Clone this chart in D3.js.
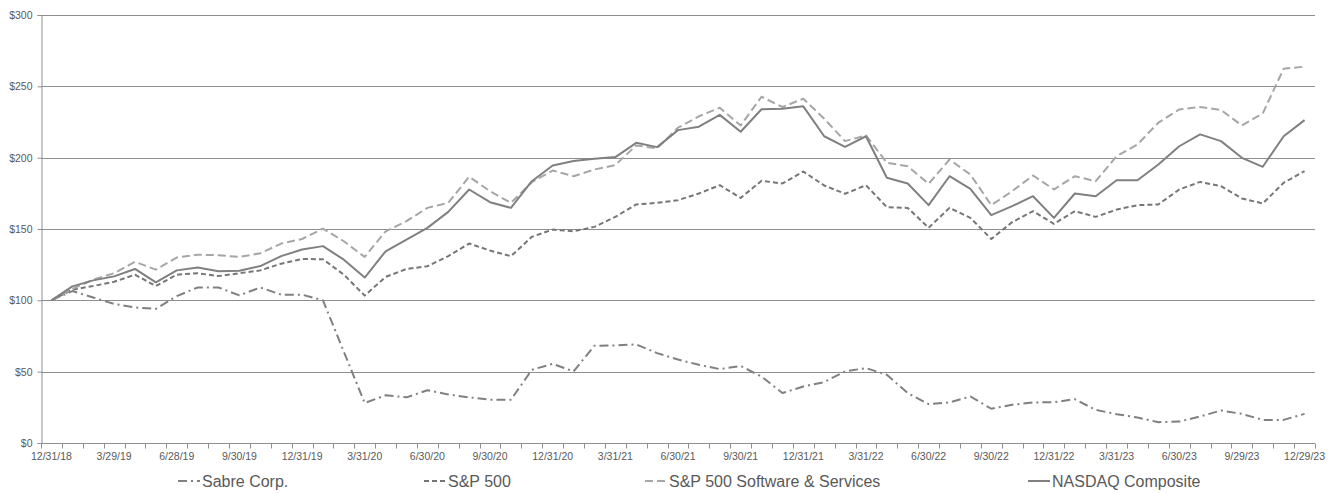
<!DOCTYPE html>
<html>
<head>
<meta charset="utf-8">
<script src="https://cdn.jsdelivr.net/npm/d3@7"></script>
<style>
  body { margin: 0; background: #fff; }
  #chart { width: 1336px; height: 493px; }
  text { font-family: "Liberation Sans", Arial, sans-serif; fill: #595959; }
</style>
</head>
<body>
<div id="chart"></div>
<script>
// month-end dates, one per point (every 3rd one is labelled)
const dates = [
  "12/31/18", "1/31/19", "2/28/19", "3/29/19", "4/30/19", "5/31/19", "6/28/19", "7/31/19", "8/30/19", "9/30/19", "10/31/19", "11/29/19",
  "12/31/19", "1/31/20", "2/28/20", "3/31/20", "4/30/20", "5/29/20", "6/30/20", "7/31/20", "8/31/20", "9/30/20", "10/30/20", "11/30/20",
  "12/31/20", "1/29/21", "2/26/21", "3/31/21", "4/30/21", "5/28/21", "6/30/21", "7/30/21", "8/31/21", "9/30/21", "10/29/21", "11/30/21",
  "12/31/21", "1/31/22", "2/28/22", "3/31/22", "4/29/22", "5/31/22", "6/30/22", "7/29/22", "8/31/22", "9/30/22", "10/31/22", "11/30/22",
  "12/31/22", "1/31/23", "2/28/23", "3/31/23", "4/28/23", "5/31/23", "6/30/23", "7/31/23", "8/31/23", "9/29/23", "10/31/23", "11/30/23",
  "12/29/23"
];

const sabre = [100, 106.5, 102, 97.5, 95, 94, 103, 109, 109, 103.5,
  109, 104, 104, 100, 64, 28, 33.5, 32, 37, 34,
  32, 30.3, 30.3, 51.3, 55.5, 50.2, 68.2, 68.4, 69.1, 63,
  58.5, 54.8, 51.8, 54, 46.6, 35, 39.6, 42.7, 50.2, 52.5,
  47.8, 35, 27.2, 28.4, 32.6, 24, 26.8, 28.4, 28.6, 30.7,
  23.2, 20.2, 17.9, 14.6, 15, 18.6, 22.8, 20.4, 16.2, 16.2, 20.4];

const sp500 = [100, 107.5, 110, 113, 118, 110, 118, 119, 117, 119,
  121, 125.7, 129, 128.8, 118, 103.3, 116.4, 122, 123.9, 131,
  139.8, 134.9, 130.9, 144.5, 149.6, 148.4, 151.5, 158.5, 167.2, 168.3,
  170.2, 174.9, 180.7, 171.8, 183.8, 181.9, 190.3, 180.5, 174.7, 180.7,
  165.3, 164.8, 150.8, 164.8, 157.8, 143, 154.8, 162.5, 153.6, 162.5,
  158.5, 163.6, 166.7, 167.2, 177.7, 183, 180, 171.4, 167.9, 182.4, 190.6];

const software = [100, 108, 114.5, 119, 127, 121.5, 130, 132, 131.6, 130.4,
  133, 139.8, 143, 150.3, 141.4, 130.4, 148.4, 155.5, 164.8, 168.3,
  186.6, 176.5, 168.3, 182.8, 191, 187, 191.7, 194.8, 208.6, 206.5,
  221, 229, 235, 222.6, 242.7, 235.5, 241.3, 227.3, 211.6, 215.6,
  196.4, 194, 181.7, 198.7, 188.2, 166.7, 176.5, 187.5, 177.7, 187,
  183.5, 201, 209.3, 224.5, 233.8, 235.5, 233.4, 222.6, 231, 262.4, 263.8];

const nasdaq = [100, 109.8, 114, 116.8, 122, 112.6, 121, 123, 120.4, 120.8,
  124, 131, 135.6, 138, 128.5, 116, 134.4, 142.6, 150.8, 162,
  177.7, 168.8, 164.8, 183.5, 194.5, 197.6, 199.2, 200.4, 210.4, 207.4,
  219.3, 221.7, 230, 218.2, 233.9, 234.3, 236, 215, 207.6, 215,
  185.9, 181.9, 166.7, 187, 178.2, 159.7, 166, 173, 157.8, 174.9,
  173, 184.2, 184.2, 195.2, 208, 216.3, 211.6, 199.9, 193.6, 215, 226.3];

const yTicks = [0, 50, 100, 150, 200, 250, 300];

const series = [
  { name: "Sabre Corp.", values: sabre, color: "#808080", dash: "9,4,2,4" },
  { name: "S&P 500", values: sp500, color: "#767676", dash: "5,3" },
  { name: "S&P 500 Software & Services", values: software, color: "#a6a6a6", dash: "8,4" },
  { name: "NASDAQ Composite", values: nasdaq, color: "#808080", dash: null }
];

const width = 1336, height = 493;
const margin = { top: 15, right: 21, bottom: 50, left: 41 };

const svg = d3.select("#chart").append("svg")
  .attr("width", width)
  .attr("height", height);

const x = d3.scaleBand()
  .domain(dates)
  .range([margin.left, width - margin.right]);

const y = d3.scaleLinear()
  .domain([0, 300])
  .range([height - margin.bottom, margin.top]);

// gridlines
svg.append("g")
  .selectAll("line")
  .data(yTicks.filter(d => d > 0))
  .enter().append("line")
  .attr("x1", margin.left)
  .attr("x2", width - margin.right)
  .attr("y1", d => Math.round(y(d)) + 0.5)
  .attr("y2", d => Math.round(y(d)) + 0.5)
  .attr("stroke", "#8f8f8f")
  .attr("stroke-width", 1);

// y axis
const yAxis = svg.append("g")
  .attr("transform", `translate(${margin.left + 0.5},0)`)
  .call(d3.axisLeft(y).tickValues(yTicks).tickFormat(d => "$" + d).tickSize(4).tickPadding(5));
yAxis.select(".domain").attr("stroke", "#8f8f8f");
yAxis.selectAll(".tick line").attr("stroke", "#8f8f8f");
yAxis.selectAll("text").style("font-size", "10.5px").attr("fill", "#595959");

// x axis: ticks between categories, labels every 3rd
const xAxisG = svg.append("g")
  .attr("transform", `translate(0,${Math.round(y(0)) + 0.5})`);
xAxisG.append("line")
  .attr("x1", margin.left).attr("x2", width - margin.right)
  .attr("stroke", "#8f8f8f");
xAxisG.selectAll(".tk")
  .data(dates.concat(["end"]))
  .enter().append("line")
  .attr("class", "tk")
  .attr("x1", (d, i) => Math.round(margin.left + i * x.step()) + 0.5)
  .attr("x2", (d, i) => Math.round(margin.left + i * x.step()) + 0.5)
  .attr("y1", 0).attr("y2", 5)
  .attr("stroke", "#8f8f8f");
xAxisG.selectAll(".lbl")
  .data(dates.filter((d, i) => i % 3 === 0))
  .enter().append("text")
  .attr("class", "lbl")
  .attr("x", d => x(d) + x.bandwidth() / 2)
  .attr("y", 16)
  .attr("text-anchor", "middle")
  .style("font-size", "10.5px")
  .text(d => d);

// lines
const line = d3.line()
  .x((d, i) => x(dates[i]) + x.bandwidth() / 2)
  .y(d => y(d));

svg.append("g")
  .selectAll("path")
  .data(series)
  .enter().append("path")
  .attr("d", d => line(d.values))
  .attr("fill", "none")
  .attr("stroke", d => d.color)
  .attr("stroke-width", 2)
  .attr("stroke-dasharray", d => d.dash)
  .attr("stroke-linejoin", "round");

// legend
const legendX = [178, 424, 645, 1028];
const legend = svg.append("g")
  .selectAll("g")
  .data(series)
  .enter().append("g")
  .attr("transform", (d, i) => `translate(${legendX[i]},481)`);
legend.append("line")
  .attr("x1", 0).attr("x2", 22)
  .attr("stroke", d => d.color)
  .attr("stroke-width", 2)
  .attr("stroke-dasharray", d => d.dash);
legend.append("text")
  .attr("x", 24)
  .attr("y", 6)
  .style("font-size", "16px")
  .text(d => d.name);
</script>
</body>
</html>
